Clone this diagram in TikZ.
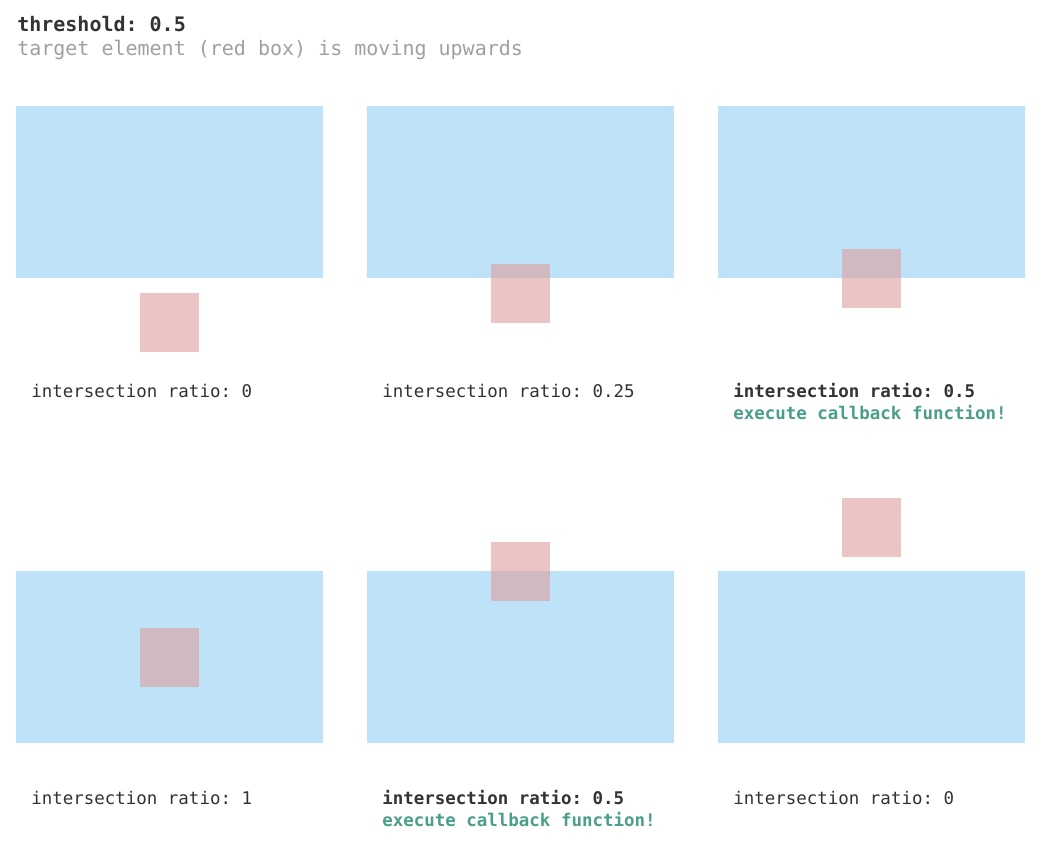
\documentclass[tikz,border=0pt]{standalone}
\usepackage{fontspec}
\setmonofont{DejaVu Sans Mono}
\usepackage{tikz}

\definecolor{rootblue}{HTML}{BEE3F8}
\definecolor{targetred}{HTML}{DF9D9D}
\definecolor{textdark}{HTML}{333333}
\definecolor{textgray}{HTML}{A0A0A0}
\definecolor{callgreen}{HTML}{4A9E8A}

\tikzset{
  root/.style={fill=rootblue, draw=none, inner sep=0pt, anchor=north west,
    minimum width=230.25pt, minimum height=129pt},
  target/.style={fill=targetred, fill opacity=.6, draw=none, inner sep=0pt,
    anchor=north west, minimum width=44.25pt, minimum height=44.25pt},
  ratio/.style={anchor=base west, inner sep=0pt, text=textdark,
    font=\ttfamily\fontsize{13.1}{15}\selectfont},
  callback/.style={ratio, text=callgreen, font=\ttfamily\bfseries\fontsize{13.1}{15}\selectfont}
}

\begin{document}
\begin{tikzpicture}[x=0.75pt, y=-0.75pt]
  \useasboundingbox (0,0) rectangle (1053,843);
  \fill[white] (0,0) rectangle (1053,843);

  \node[anchor=base west, inner sep=0pt, text=textdark,
    font=\ttfamily\bfseries\fontsize{15}{18}\selectfont] (title) at (17,31) {threshold: 0.5};
  \node[anchor=base west, inner sep=0pt, text=textgray,
    font=\ttfamily\fontsize{15}{18}\selectfont] (subtitle) at (17,55) {target element (red box) is moving upwards};

  % top row
  \node[root] (r1) at (16,106) {};
  \node[root] (r2) at (367,106) {};
  \node[root] (r3) at (718,106) {};
  \node[target] (t1) at (140,293) {};
  \node[target] (t2) at (491,264) {};
  \node[target] (t3) at (842,249) {};
  \node[ratio] (l1) at (31,397) {intersection ratio: 0};
  \node[ratio] (l2) at (382,397) {intersection ratio: 0.25};
  \node[ratio, font=\ttfamily\bfseries\fontsize{13.1}{15}\selectfont] (l3) at (733,397) {intersection ratio: 0.5};
  \node[callback] (c3) at (733,419) {execute callback function!};

  % bottom row
  \node[root] (r4) at (16,571) {};
  \node[root] (r5) at (367,571) {};
  \node[root] (r6) at (718,571) {};
  \node[target] (t4) at (140,628) {};
  \node[target] (t5) at (491,542) {};
  \node[target] (t6) at (842,498) {};
  \node[ratio] (l4) at (31,804) {intersection ratio: 1};
  \node[ratio, font=\ttfamily\bfseries\fontsize{13.1}{15}\selectfont] (l5) at (382,804) {intersection ratio: 0.5};
  \node[callback] (c5) at (382,826) {execute callback function!};
  \node[ratio] (l6) at (733,804) {intersection ratio: 0};
\end{tikzpicture}
\end{document}
